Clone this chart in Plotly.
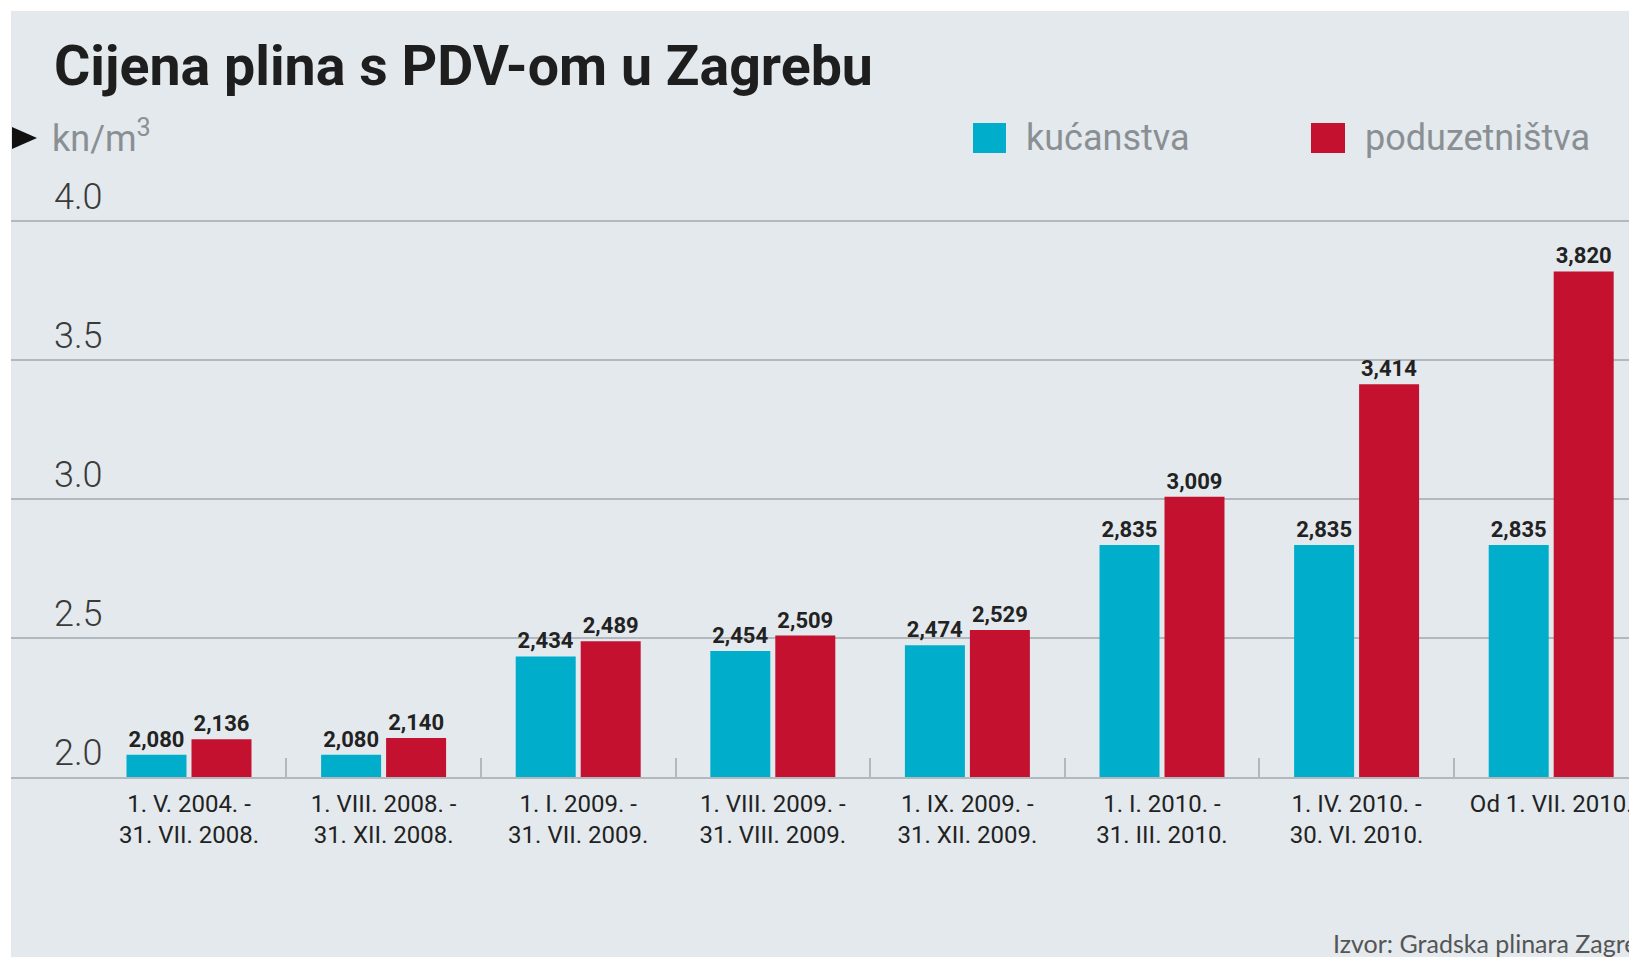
import plotly.graph_objects as go

# ---- data ----
categories = [
    "1. V. 2004. -<br>31. VII. 2008.",
    "1. VIII. 2008. -<br>31. XII. 2008.",
    "1. I. 2009. -<br>31. VII. 2009.",
    "1. VIII. 2009. -<br>31. VIII. 2009.",
    "1. IX. 2009. -<br>31. XII. 2009.",
    "1. I. 2010. -<br>31. III. 2010.",
    "1. IV. 2010. -<br>30. VI. 2010.",
    "Od 1. VII. 2010.",
]
kucanstva = [2.080, 2.080, 2.434, 2.454, 2.474, 2.835, 2.835, 2.835]
poduzetnistva = [2.136, 2.140, 2.489, 2.509, 2.529, 3.009, 3.414, 3.820]
y_ticks = [2.0, 2.5, 3.0, 3.5, 4.0]
y_tick_labels = ["2.0", "2.5", "3.0", "3.5", "4.0"]
series_names = ["kućanstva", "poduzetništva"]

# ---- style ----
W, H = 1637, 957
OFF = 8  # page body margin offset
BG = "#e3e9ed"
CYAN = "#00aecb"
RED = "#c4112f"
GRID = "#b3b8bc"
L, R = 3, 0
T = 220 - OFF
B = H - (777 - OFF)
PW = W - L - R
PH = H - T - B


def px(x):
    """page pixel x -> paper fraction"""
    return (x - OFF - L) / PW


def py(y):
    """page pixel y -> paper fraction"""
    return (H - B - (y - OFF)) / PH


def fmt(v):
    return f"{v:.3f}".replace(".", ",")


xs = list(range(len(categories)))
label_font = dict(family="Roboto", size=22, color="#222222", weight=700)

fig = go.Figure()
fig.add_trace(go.Bar(
    x=xs, y=kucanstva, name=series_names[0], marker=dict(color=CYAN, line=dict(width=0)),
    text=[fmt(v) for v in kucanstva], textposition="outside",
    textfont=label_font, cliponaxis=False,
))
fig.add_trace(go.Bar(
    x=xs, y=poduzetnistva, name=series_names[1], marker=dict(color=RED, line=dict(width=0)),
    text=[fmt(v) for v in poduzetnistva], textposition="outside",
    textfont=label_font, cliponaxis=False,
))

step = 194.6
x0 = -(189 - OFF - L) / step
fig.update_layout(
    width=W, height=H,
    margin=dict(l=L, r=R, t=T, b=B, pad=0),
    paper_bgcolor=BG, plot_bgcolor=BG,
    showlegend=False,
    barmode="group", bargap=0.332, bargroupgap=0.077,
    font=dict(family="Roboto", color="#333333"),
    xaxis=dict(
        range=[x0, x0 + PW / step],
        tickmode="array", tickvals=xs, ticktext=categories,
        ticks="", showgrid=False, zeroline=False,
        showline=True, linecolor=GRID, linewidth=2,
        ticklabelstandoff=4,
        tickfont=dict(family="Roboto", size=24, color="#222222"),
        minor=dict(tickmode="array", tickvals=[i + 0.5 for i in xs[:-1]],
                   ticks="inside", ticklen=19, tickwidth=1.5, tickcolor=GRID),
    ),
    yaxis=dict(
        range=[2.0, 4.005], tickmode="array", tickvals=y_ticks,
        showticklabels=False, ticks="", showgrid=True, gridcolor=GRID, gridwidth=2,
        zeroline=False, showline=False,
    ),
)

ann = []
for v, t in zip(y_ticks, y_tick_labels):
    ann.append(dict(x=px(52), y=v, xref="paper", yref="y", text=t, showarrow=False,
                    xanchor="left", yanchor="bottom", yshift=1,
                    font=dict(family="Roboto", size=36, color="#3a3a3a", weight=300)))
ann.append(dict(x=px(52), y=py(67), xref="paper", yref="paper",
                text="Cijena plina s PDV-om u Zagrebu", showarrow=False,
                xanchor="left", yanchor="middle",
                font=dict(family="Roboto", size=55.5, color="#1e1e1e", weight=700)))
ann.append(dict(x=px(50), y=py(137), xref="paper", yref="paper",
                text="kn/m<sup>3</sup>", showarrow=False, xanchor="left", yanchor="middle",
                font=dict(family="Roboto", size=36, color="#8a8f93")))
ann.append(dict(x=px(1024), y=py(138), xref="paper", yref="paper", text=series_names[0],
                showarrow=False, xanchor="left", yanchor="middle",
                font=dict(family="Roboto", size=36, color="#8a8f93")))
ann.append(dict(x=px(1363), y=py(138), xref="paper", yref="paper", text=series_names[1],
                showarrow=False, xanchor="left", yanchor="middle",
                font=dict(family="Roboto", size=36, color="#8a8f93")))
ann.append(dict(x=px(1331), y=py(943), xref="paper", yref="paper",
                text="Izvor: Gradska plinara Zagreb", showarrow=False,
                xanchor="left", yanchor="middle",
                font=dict(family="Lato", size=25, color="#555555")))
fig.update_layout(annotations=ann)

shapes = [
    dict(type="rect", xref="paper", yref="paper", x0=px(0), x1=px(W + OFF), y0=py(0), y1=py(11),
         fillcolor="white", line=dict(width=0), layer="above"),
    dict(type="rect", xref="paper", yref="paper", x0=px(0), x1=px(11), y0=py(H + OFF), y1=py(0),
         fillcolor="white", line=dict(width=0), layer="above"),
    dict(type="rect", xref="paper", yref="paper", x0=px(973), x1=px(1006), y0=py(153), y1=py(123),
         fillcolor=CYAN, line=dict(width=0)),
    dict(type="rect", xref="paper", yref="paper", x0=px(1311), x1=px(1345), y0=py(153), y1=py(123),
         fillcolor=RED, line=dict(width=0)),
    dict(type="path", xref="paper", yref="paper",
         path=f"M {px(12)} {py(127)} L {px(37)} {py(138)} L {px(12)} {py(149)} Z",
         fillcolor="#111111", line=dict(width=0)),
]
fig.update_layout(shapes=shapes)

fig.write_html("out.html")
